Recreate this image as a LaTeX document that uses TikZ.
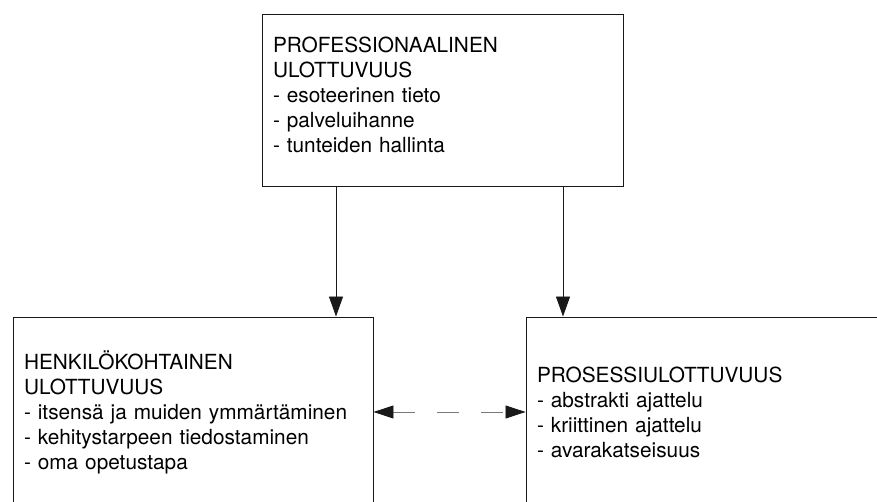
\documentclass[tikz,border=0pt]{standalone}
\usepackage{fontspec}
\setmainfont{TeX Gyre Heros}
\usepackage{tikz}
\usetikzlibrary{arrows.meta,positioning}
\usepackage{xcolor}
\definecolor{scanblack}{RGB}{25,25,25}
\definecolor{scangray}{RGB}{120,120,120}
\tikzstyle{dimbox} = [rectangle, draw=scanblack, line width=0.9pt, inner xsep=11pt, inner ysep=0pt, align=left, font=\fontsize{20.8}{25}\selectfont]
\tikzstyle{arrow} = [line width=0.9pt, scanblack, -{Triangle[length=20pt,width=14pt]}]
\tikzstyle{link} = [line width=0.8pt, scangray, dash pattern=on 22pt off 22pt, {Triangle[length=20pt,width=13pt,color=scanblack]}-{Triangle[length=20pt,width=13pt,color=scanblack]}]

\begin{document}
\begin{tikzpicture}[x=1pt, y=1pt]
\useasboundingbox (0,0) rectangle (877,502);
\clip (0,0) rectangle (877,502);

% Top dimension
\node[dimbox, text width=339pt, minimum height=172pt] (prof) at (442.5,402) {PROFESSIONAALINEN\\ULOTTUVUUS\\- esoteerinen tieto\\- palveluihanne\\- tunteiden hallinta\\[-15pt]\mbox{}};

% Lower dimensions
\node[dimbox, text width=338pt, minimum height=190pt] (henk) at (193,90) {HENKIL\"OKOHTAINEN\\ULOTTUVUUS\\- itsens\"a ja muiden ymm\"art\"aminen\\- kehitystarpeen tiedostaminen\\- oma opetustapa};
\node[dimbox, text width=338pt, minimum height=190pt] (pros) at (706,90) {PROSESSIULOTTUVUUS\\- abstrakti ajattelu\\- kriittinen ajattelu\\- avarakatseisuus};

% Connections
\draw[arrow] ([xshift=-106.5pt]prof.south) -- ([xshift=143pt]henk.north);
\draw[arrow] ([xshift=120.5pt]prof.south) -- ([xshift=-143pt]pros.north);
\draw[link] (henk.east) -- (pros.west);
\end{tikzpicture}
\end{document}
